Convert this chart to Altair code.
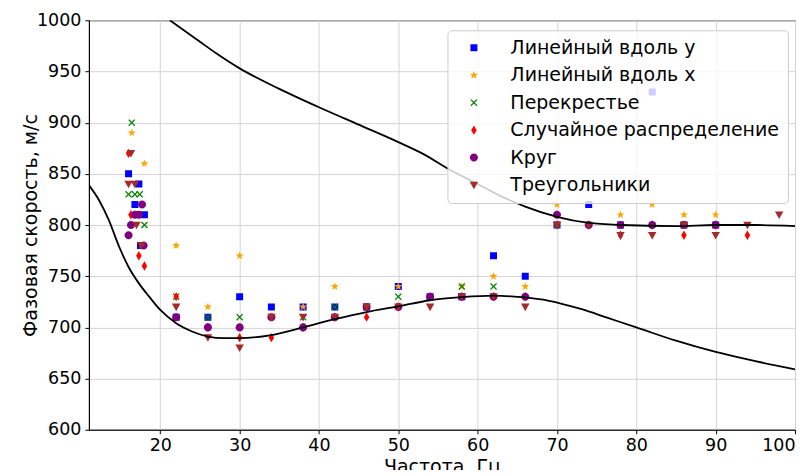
import altair as alt
import pandas as pd

NAMES = ["Линейный вдоль y", "Линейный вдоль x", "Перекрестье",
         "Случайное распределение", "Круг", "Треугольники"]
COLORS = ["#0000ff", "#ffa500", "#008000", "#ff0000", "#800080", "#a52a2a"]

# Линейный вдоль y
lin_y_f = [16, 17.3, 16.8, 18, 17.5, 22, 26, 30, 34, 38, 42, 46, 50, 54, 58, 62, 66, 70, 74, 78, 82, 86, 90]
lin_y_v = [850, 840, 820, 810, 780, 710, 710, 730, 720, 720, 720, 720, 740, 730, 730, 770, 750, 800, 820, 800, 930, 800, 800]
# Линейный вдоль x
lin_x_f = [16.4, 18, 22, 26, 30, 38, 42, 50, 58, 62, 66, 70, 78, 82, 86, 90]
lin_x_v = [890, 860, 780, 720, 770, 720, 740, 740, 740, 750, 740, 820, 810, 820, 810, 810]
# Перекрестье
cross_f = [16.4, 16, 16.8, 17.4, 18, 17.7, 22, 26, 30, 38, 42, 50, 58, 62, 70, 78, 82, 90]
cross_v = [900, 830, 830, 830, 800, 780, 730, 710, 710, 710, 720, 730, 740, 740, 800, 800, 800, 800]
# Случайное распределение
rand_f = [16, 16.3, 17.3, 18, 22, 26, 30, 34, 38, 42, 46, 50, 54, 58, 62, 66, 70, 74, 78, 82, 86, 90, 94]
rand_v = [870, 810, 770, 760, 730, 700, 690, 690, 700, 710, 710, 720, 730, 730, 730, 730, 800, 800, 790, 800, 790, 800, 790]
# Круг
circ_f = [17.7, 16.8, 17.3, 16.3, 16, 17.9, 22, 26, 30, 34, 38, 42, 46, 50, 54, 58, 62, 66, 70, 74, 78, 82, 86, 90]
circ_v = [820, 810, 810, 800, 790, 780, 710, 700, 700, 710, 700, 710, 720, 720, 730, 730, 730, 730, 810, 800, 800, 800, 800, 800]
# Треугольники
tri_f = [16.3, 16, 16.8, 17, 17.6, 22, 26, 30, 34, 38, 42, 46, 50, 54, 58, 62, 66, 70, 74, 78, 82, 86, 90, 94, 98]
tri_v = [870, 840, 840, 800, 780, 720, 690, 680, 710, 710, 710, 720, 720, 720, 730, 730, 720, 800, 800, 790, 790, 800, 790, 800, 810]

# theoretical curves
upper_f = [21.2, 25, 27, 30, 35, 40, 45, 50, 53, 56.5, 60, 63, 66, 70, 74, 78, 85, 90, 95, 100]
upper_v = [1000, 979, 968, 953, 933, 915, 898, 881, 870, 854, 840, 828, 818, 808, 802, 800, 799, 800, 800, 799]
lower_f = [11, 12.3, 13.5, 14.8, 16, 17.3, 18.6, 20, 22, 24, 26, 28, 30, 34, 38, 42, 46, 50, 54, 58, 62, 65.5, 69, 73, 76.5, 80, 85, 90, 95, 100]
lower_v = [839, 824, 805, 779, 759, 743, 730, 717, 704, 696, 691, 689.5, 689.5, 692.5, 700, 708, 715, 720.5, 726.5, 729.5, 731, 729.5, 726, 718, 709, 700, 687, 676, 667, 659]

X_TICKS = [20, 30, 40, 50, 60, 70, 80, 90, 100]
Y_TICKS = [600, 650, 700, 750, 800, 850, 900, 950, 1000]

# marker shapes (unit box -1..1)
SQUARE = "M-0.78,-0.78L0.78,-0.78L0.78,0.78L-0.78,0.78Z"
STAR = ("M0,-0.95L0.22,-0.31L0.9,-0.29L0.36,0.12L0.56,0.77L0,0.38"
        "L-0.56,0.77L-0.36,0.12L-0.9,-0.29L-0.22,-0.31Z")
XMARK = ("M-0.78,-0.58L-0.58,-0.78L0,-0.2L0.58,-0.78L0.78,-0.58L0.2,0"
         "L0.78,0.58L0.58,0.78L0,0.2L-0.58,0.78L-0.78,0.58L-0.2,0Z")
DIAMOND = "M0,-1.05L0.62,0L0,1.05L-0.62,0Z"
CIRCLE = "M0.9,0A0.9,0.9,0,1,1,-0.9,0A0.9,0.9,0,1,1,0.9,0Z"
TRI = "M-0.95,-0.75L0.95,-0.75L0,0.95Z"
SHAPES = [SQUARE, STAR, XMARK, DIAMOND, CIRCLE, TRI]

rows = []
for name, fs, vs in zip(NAMES,
                        [lin_y_f, lin_x_f, cross_f, rand_f, circ_f, tri_f],
                        [lin_y_v, lin_x_v, cross_v, rand_v, circ_v, tri_v]):
    for f, v in zip(fs, vs):
        rows.append({"series": name, "f": f, "v": v})
pts = pd.DataFrame(rows)

lines = pd.DataFrame(
    [{"curve": "upper", "f": f, "v": v} for f, v in zip(upper_f, upper_v)]
    + [{"curve": "lower", "f": f, "v": v} for f, v in zip(lower_f, lower_v)]
)

xenc = alt.X("f:Q", scale=alt.Scale(domain=[11, 100], nice=False, zero=False),
             axis=alt.Axis(values=X_TICKS, title="Частота, Гц", format="d",
                           labelPadding=3, titlePadding=3))
yenc = alt.Y("v:Q", scale=alt.Scale(domain=[600, 1000], nice=False, zero=False),
             axis=alt.Axis(values=Y_TICKS, title="Фазовая скорость, м/с", format="d",
                           titlePadding=-4))

leg = alt.Legend(title=None, orient="none", legendX=359, legendY=10)

points = alt.Chart(pts).mark_point(filled=True, opacity=1, strokeWidth=0, size=80, clip=True).encode(
    x=xenc, y=yenc,
    color=alt.Color("series:N", scale=alt.Scale(domain=NAMES, range=COLORS), legend=leg, sort=NAMES),
    shape=alt.Shape("series:N", scale=alt.Scale(domain=NAMES, range=SHAPES), legend=leg, sort=NAMES),
)

curves = alt.Chart(lines).mark_line(color="black", strokeWidth=1.8, interpolate="monotone", clip=True).encode(
    x=alt.X("f:Q"), y=alt.Y("v:Q"), detail="curve:N"
)

chart = alt.layer(points, curves).properties(
    width=707, height=410,
    autosize=alt.AutoSizeParams(type="none"),
    padding={"left": 81, "top": 12, "right": 8, "bottom": 40},
).configure_view(
    stroke="black", strokeWidth=1
).configure_axis(
    gridColor="#d4d4d4", gridWidth=1, domainColor="black", domainWidth=1,
    tickColor="black", tickSize=4, labelColor="black", labelFont="DejaVu Sans",
    labelFontSize=17.5, titleFont="DejaVu Sans", titleFontSize=19,
    titleFontWeight="normal", titleColor="black", labelPadding=4,
).configure_legend(
    labelFont="DejaVu Sans", labelFontSize=19, labelColor="black",
    fillColor="rgba(255,255,255,0.8)", strokeColor="#cccccc", cornerRadius=4,
    padding=8, rowPadding=7.5, symbolSize=80, symbolStrokeWidth=0,
    symbolOffset=9, labelOffset=27, labelLimit=400,
)

chart.save("out.html", embed_options={"renderer": "svg", "actions": False})
